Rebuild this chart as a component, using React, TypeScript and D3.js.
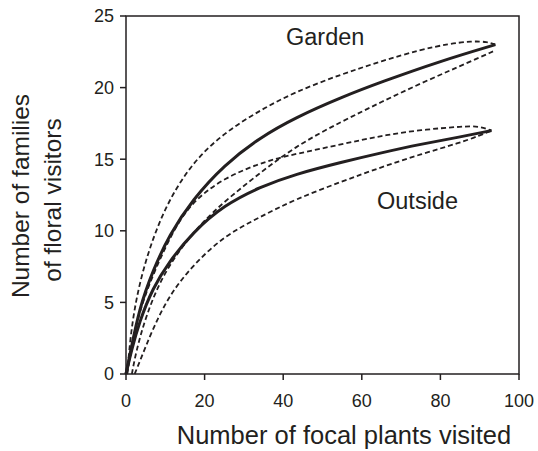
import React from "react";
import * as d3 from "d3";

const xTicks = [0, 20, 40, 60, 80, 100];
const yTicks = [0, 5, 10, 15, 20, 25];

const gardenX = [0, 1, 3.4, 6.8, 11, 17, 25, 34, 43, 55, 65, 80, 94];
const gardenMean = [0, 1.35, 4.6, 7.2, 9.7, 12.2, 14.6, 16.5, 17.9, 19.35, 20.4, 21.85, 23.0];

const gardenUpperX = [0.3, 1.3, 3.4, 6.8, 11, 17, 25, 34, 43, 55, 65, 75, 82, 88, 92, 94];
const gardenUpper = [0, 3.2, 6.4, 9.5, 12.2, 14.8, 16.85, 18.4, 19.7, 20.95, 21.85, 22.65, 23.05, 23.25, 23.2, 23.0];

const gardenLowerX = [1.5, 2.5, 5.1, 9.3, 15.3, 22, 32, 43, 55, 65, 75, 85, 94];
const gardenLower = [0, 1.5, 4.1, 6.9, 9.3, 11.35, 13.6, 15.9, 17.65, 19.0, 20.3, 21.5, 22.6];

const outsideX = [0, 1.3, 3.4, 6.8, 11, 17, 25, 34, 43, 55, 65, 75, 85, 93];
const outsideMean = [0, 1.55, 3.65, 6.0, 7.85, 9.9, 11.8, 13.05, 13.95, 14.8, 15.45, 16.05, 16.55, 17.0];

const outsideUpperX = [0.3, 1.3, 3.4, 6.8, 11, 16, 25, 36.5, 43, 55, 65, 75, 86, 90, 93];
const outsideUpper = [0, 1.8, 4.4, 6.9, 9.45, 11.85, 13.75, 14.95, 15.35, 16.05, 16.65, 17.05, 17.3, 17.3, 17.0];

const outsideLowerX = [2.2, 3.4, 6.8, 11, 17, 25, 34, 43, 55, 65, 75, 85, 90, 93];
const outsideLower = [0, 0.8, 3.15, 5.5, 7.6, 9.65, 10.95, 12.2, 13.45, 14.45, 15.35, 16.15, 16.65, 17.0];

const W = 538;
const H = 451;
const left = 126;
const right = 519;
const top = 16;
const bottom = 374;
const ink = "#231f20";
const font = "'Liberation Sans', Arial, Helvetica, sans-serif";

export default function App() {
  const x = d3.scaleLinear().domain([0, 100]).range([left, right]);
  const y = d3.scaleLinear().domain([0, 25]).range([bottom, top]);
  const line = d3
    .line<[number, number]>()
    .x((d) => x(d[0]))
    .y((d) => y(d[1]))
    .curve(d3.curveBasis);
  const zip = (xs: number[], ys: number[]) => xs.map((v, i) => [v, ys[i]] as [number, number]);

  const solid = [zip(gardenX, gardenMean), zip(outsideX, outsideMean)];
  const dashed = [
    zip(gardenUpperX, gardenUpper),
    zip(gardenLowerX, gardenLower),
    zip(outsideUpperX, outsideUpper),
    zip(outsideLowerX, outsideLower),
  ];

  return (
    <svg
      width={W}
      height={H}
      style={{ position: "absolute", left: 0, top: 0, background: "#fff" }}
      fontFamily={font}
    >
      <rect x={0} y={0} width={W} height={H} fill="#fff" />
      {dashed.map((d, i) => (
        <path
          key={"d" + i}
          d={line(d) || ""}
          fill="none"
          stroke={ink}
          strokeWidth={1.8}
          strokeDasharray="5,3"
        />
      ))}
      {solid.map((d, i) => (
        <path key={"s" + i} d={line(d) || ""} fill="none" stroke={ink} strokeWidth={3} />
      ))}
      <rect
        x={left}
        y={top}
        width={right - left}
        height={bottom - top}
        fill="none"
        stroke={ink}
        strokeWidth={1.5}
      />
      {yTicks.map((t) => (
        <g key={"y" + t}>
          <line x1={left - 6} x2={left} y1={y(t)} y2={y(t)} stroke={ink} strokeWidth={1.5} />
          <text
            x={left - 12}
            y={y(t)}
            dy="0.35em"
            textAnchor="end"
            fontSize={18}
            fill={ink}
          >
            {t}
          </text>
        </g>
      ))}
      {xTicks.map((t) => (
        <g key={"x" + t}>
          <line x1={x(t)} x2={x(t)} y1={bottom} y2={bottom + 6} stroke={ink} strokeWidth={1.5} />
          <text x={x(t)} y={407} textAnchor="middle" fontSize={18} fill={ink}>
            {t}
          </text>
        </g>
      ))}
      <text x={344} y={444} textAnchor="middle" fontSize={25.5} fill={ink}>
        Number of focal plants visited
      </text>
      <g transform="translate(29,196) rotate(-90)">
        <text x={0} y={0} textAnchor="middle" fontSize={24.5} fill={ink}>
          Number of families
        </text>
      </g>
      <g transform="translate(61,200) rotate(-90)">
        <text x={0} y={0} textAnchor="middle" fontSize={24.5} fill={ink}>
          of floral visitors
        </text>
      </g>
      <text x={286} y={45} fontSize={23.5} fill={ink}>
        Garden
      </text>
      <text x={377} y={209} fontSize={23.5} fill={ink}>
        Outside
      </text>
    </svg>
  );
}
